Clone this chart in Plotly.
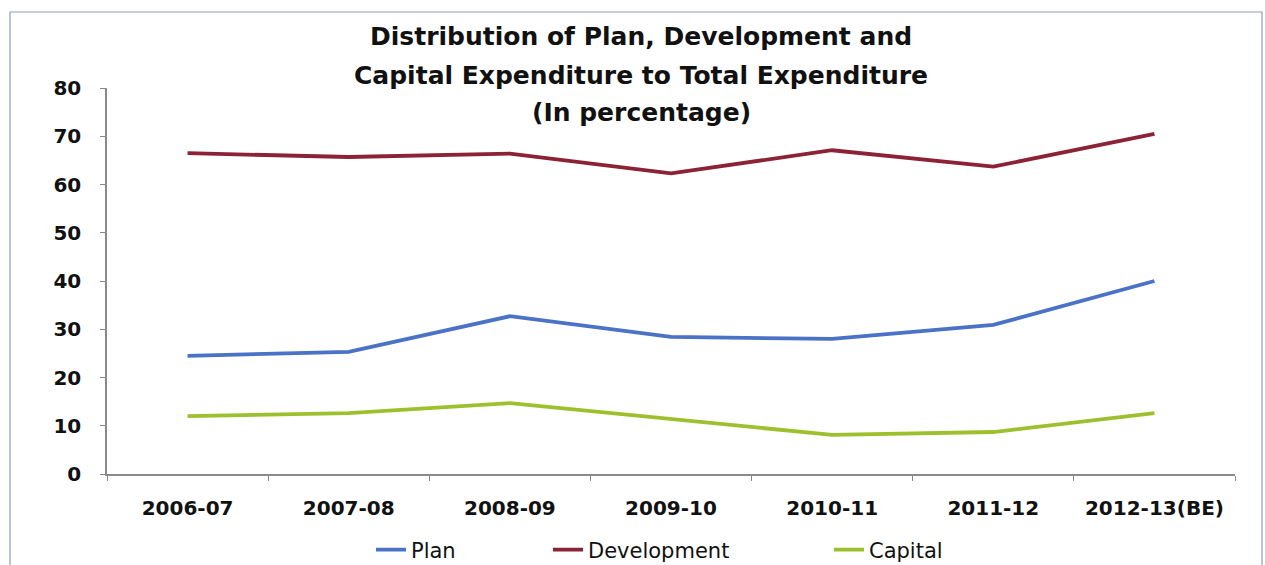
import plotly.graph_objects as go

# Share of plan, development and capital expenditure in total expenditure (%)
years = ["2006-07", "2007-08", "2008-09", "2009-10", "2010-11", "2011-12", "2012-13(BE)"]
plan = [24.5, 25.3, 32.7, 28.4, 28.0, 30.9, 40.0]
development = [66.5, 65.7, 66.4, 62.3, 67.1, 63.7, 70.5]
capital = [12.0, 12.6, 14.7, 11.4, 8.1, 8.7, 12.6]

y_ticks = list(range(0, 90, 10))

series = [
    ("Plan", plan, "#4A72C6", "legend"),
    ("Development", development, "#8C2236", "legend2"),
    ("Capital", capital, "#9DC02E", "legend3"),
]

FONT = "DejaVu Sans"
W, H = 1265, 565
ML, MR, MT, MB = 107, 30, 88, 91
PW, PH = W - ML - MR, H - MT - MB


def px_x(px):
    return (px - ML) / PW


def px_y(py):
    return (H - MB - py) / PH


fig = go.Figure()
for name, vals, color, leg in series:
    fig.add_trace(go.Scatter(
        x=years, y=vals, name=name, mode="lines",
        line=dict(color=color, width=3.8),
        legend=leg,
    ))

legend_common = dict(
    orientation="h", yanchor="middle", xanchor="left",
    font=dict(family=FONT, size=21, color="#111111"),
    bgcolor="rgba(0,0,0,0)", itemwidth=30,
)

tick_font = dict(family=FONT, size=20, color="#111111", weight="bold")

fig.update_layout(
    width=W, height=H,
    margin=dict(l=ML, r=MR, t=MT, b=MB, autoexpand=False),
    paper_bgcolor="white", plot_bgcolor="white",
    showlegend=True,
    legend=dict(x=px_x(371), y=px_y(550), **legend_common),
    legend2=dict(x=px_x(548), y=px_y(550), **legend_common),
    legend3=dict(x=px_x(829), y=px_y(550), **legend_common),
    xaxis=dict(
        type="category", showgrid=False,
        showline=True, linecolor="#8a8a8a", linewidth=1.5,
        ticks="outside", tickson="boundaries", ticklen=5, tickcolor="#8a8a8a",
        tickfont=tick_font,
        ticklabelstandoff=15,
        range=[-0.5, len(years) - 0.5],
    ),
    yaxis=dict(
        range=[0, 80], tickvals=y_ticks, showgrid=False, zeroline=False,
        showline=True, linecolor="#8a8a8a", linewidth=1.5,
        ticks="outside", ticklen=5, tickcolor="#8a8a8a",
        tickfont=tick_font,
        ticklabelstandoff=15,
    ),
    shapes=[dict(
        type="rect", xref="paper", yref="paper",
        x0=px_x(10), x1=px_x(1262), y0=px_y(600), y1=px_y(12),
        line=dict(color="#8f9bb5", width=1.2), layer="below",
    )],
)

title_lines = [
    ("Distribution of Plan, Development and", 37),
    ("Capital Expenditure to Total Expenditure", 75),
    ("(In percentage)", 112),
]
for text, cy in title_lines:
    fig.add_annotation(
        text="<b>%s</b>" % text, xref="paper", yref="paper",
        x=px_x(641), y=px_y(cy), xanchor="center", yanchor="middle",
        showarrow=False, font=dict(family=FONT, size=25, color="#111111"),
    )

fig.write_html("out.html")
